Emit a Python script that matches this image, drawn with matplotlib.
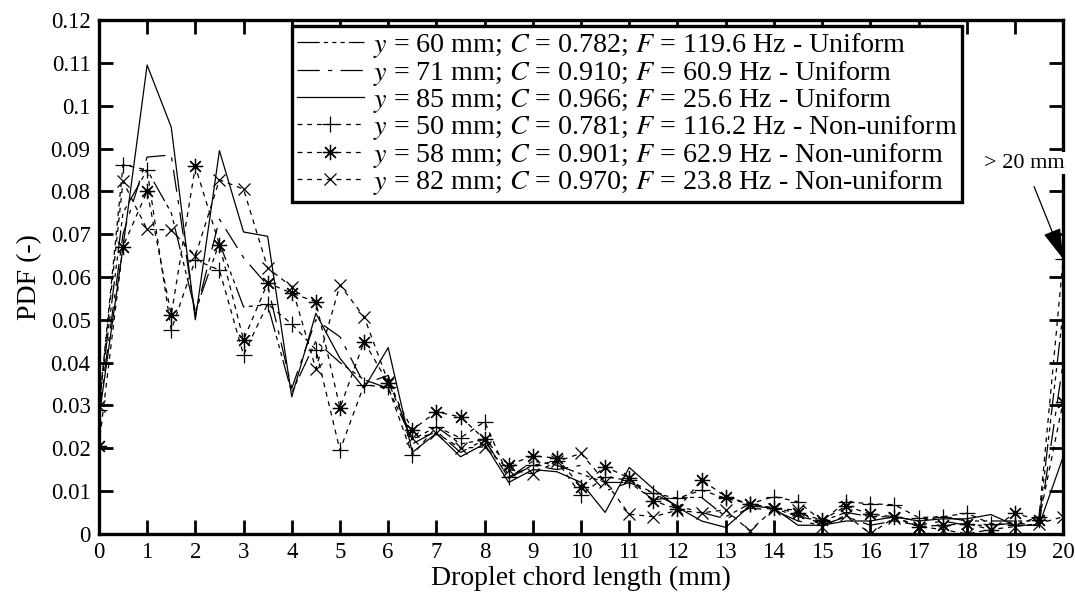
import numpy as np
import matplotlib
matplotlib.use("Agg")
import matplotlib.pyplot as plt

plt.rcParams['font.family'] = ['Liberation Serif', 'DejaVu Serif']
plt.rcParams['mathtext.fontset'] = 'stix'
plt.rcParams['lines.scale_dashes'] = False

# chord length bins (mm)
x = np.arange(0, 20.5, 0.5)

# uniform cases
pdf_60 = [0.030, 0.075, 0.085, 0.075, 0.052, 0.068, 0.053, 0.0535, 0.033, 0.045,
          0.040, 0.036, 0.034, 0.022, 0.025, 0.021, 0.022, 0.013, 0.017, 0.016,
          0.014, 0.012, 0.012, 0.008, 0.0085, 0.0085, 0.004, 0.007, 0.006, 0.004,
          0.003, 0.005, 0.004, 0.004, 0.003, 0.004, 0.003, 0.003, 0.003, 0.003, 0.052]
pdf_71 = [0.028, 0.070, 0.088, 0.0885, 0.051, 0.0735, 0.0645, 0.058, 0.034, 0.050,
          0.046, 0.035, 0.037, 0.021, 0.024, 0.019, 0.022, 0.013, 0.016, 0.015,
          0.016, 0.010, 0.012, 0.0095, 0.0065, 0.005, 0.0035, 0.006, 0.0055, 0.003,
          0.002, 0.004, 0.002, 0.003, 0.002, 0.003, 0.002, 0.002, 0.0025, 0.002, 0.040]
pdf_85 = [0.027, 0.067, 0.1095, 0.095, 0.050, 0.0895, 0.0705, 0.0695, 0.032, 0.0515,
          0.041, 0.034, 0.0435, 0.019, 0.0235, 0.018, 0.021, 0.012, 0.015, 0.0145,
          0.012, 0.005, 0.0155, 0.0105, 0.0062, 0.003, 0.0015, 0.0065, 0.006, 0.002,
          0.002, 0.003, 0.003, 0.004, 0.003, 0.0035, 0.0035, 0.0045, 0.002, 0.002, 0.018]

# non-uniform cases
pdf_50 = [0.029, 0.0862, 0.085, 0.0476, 0.064, 0.0616, 0.0418, 0.0537, 0.049, 0.043,
          0.0195, 0.0348, 0.0342, 0.0184, 0.025, 0.0224, 0.0262, 0.0133, 0.016, 0.017,
          0.0091, 0.0133, 0.0125, 0.0095, 0.0083, 0.0102, 0.0083, 0.007, 0.0087, 0.0075,
          0.003, 0.0075, 0.007, 0.0068, 0.0038, 0.004, 0.0048, 0.0024, 0.002, 0.004, 0.0642]
pdf_58 = [0.0206, 0.0671, 0.080, 0.0511, 0.0858, 0.0675, 0.0453, 0.0586, 0.0562, 0.0542,
          0.0294, 0.0449, 0.0352, 0.0243, 0.0285, 0.0273, 0.0221, 0.0161, 0.0182, 0.0177,
          0.011, 0.0157, 0.013, 0.0077, 0.0058, 0.0126, 0.0087, 0.007, 0.006, 0.0049,
          0.0032, 0.0065, 0.0046, 0.004, 0.0017, 0.002, 0.0024, 0.001, 0.0048, 0.0032, 0.0309]
pdf_82 = [0.0299, 0.0823, 0.0711, 0.071, 0.0649, 0.0827, 0.0805, 0.0621, 0.0577, 0.0385,
          0.0581, 0.0507, 0.0355, 0.0223, 0.0235, 0.020, 0.0203, 0.015, 0.014, 0.0169,
          0.0188, 0.0122, 0.0046, 0.004, 0.0055, 0.0049, 0.0056, 0.0007, 0.0058, 0.0056,
          0.0017, 0.0044, 0.0, 0.0038, 0.0017, 0.001, 0.0, 0.001, 0.0017, 0.0024, 0.004]

labels = [
    r'$y$ = 60 mm; $C$ = 0.782; $F$ = 119.6 Hz - Uniform',
    r'$y$ = 71 mm; $C$ = 0.910; $F$ = 60.9 Hz - Uniform',
    r'$y$ = 85 mm; $C$ = 0.966; $F$ = 25.6 Hz - Uniform',
    r'$y$ = 50 mm; $C$ = 0.781; $F$ = 116.2 Hz - Non-uniform',
    r'$y$ = 58 mm; $C$ = 0.901; $F$ = 62.9 Hz - Non-uniform',
    r'$y$ = 82 mm; $C$ = 0.970; $F$ = 23.8 Hz - Non-uniform',
]

fig = plt.figure(figsize=(10.75, 6.08), dpi=100)
ax = fig.add_axes([0.092, 0.122, 0.897, 0.845])

lw = 0.9
ax.plot(x, pdf_60, color='k', lw=lw, ls=(0, (16, 3, 3, 3, 3, 3, 3, 3)), label=labels[0])
ax.plot(x, pdf_71, color='k', lw=lw, ls=(0, (16, 6, 3, 6)), label=labels[1])
ax.plot(x, pdf_85, color='k', lw=lw, ls='-', label=labels[2])
dash = (0, (3.5, 3.5))
ax.plot(x, pdf_50, color='k', lw=lw, ls=dash, marker='+', ms=11, mew=0.9, label=labels[3])
ax.plot(x, pdf_58, color='k', lw=lw, ls=dash, marker=(8, 2, 0), ms=11, mew=0.9, label=labels[4])
ax.plot(x, pdf_82, color='k', lw=lw, ls=dash, marker='x', ms=9, mew=0.9, label=labels[5])

ax.set_xlim(0, 20)
ax.set_ylim(0, 0.12)
ax.set_xticks(np.arange(0, 21, 1))
ax.set_yticks(np.arange(0, 0.121, 0.01))
ax.set_yticklabels(['%g' % round(v, 2) for v in np.arange(0, 0.121, 0.01)])
ax.tick_params(direction='in', top=True, right=True, length=10, width=2,
               labelsize=16.5, pad=6)
for s in ax.spines.values():
    s.set_linewidth(2.4)

ax.set_xlabel('Droplet chord length (mm)', fontsize=20, labelpad=2)
ax.set_ylabel('PDF (-)', fontsize=20, labelpad=6)

leg = ax.legend(loc='upper left', bbox_to_anchor=(0.2, 0.988), fontsize=20.2,
                handlelength=2.4, handletextpad=0.3, borderpad=0.18,
                labelspacing=-0.06, fancybox=False, framealpha=1,
                edgecolor='k', borderaxespad=0)
leg.get_frame().set_linewidth(2.4)
leg.set_zorder(3)

ann = ax.annotate('> 20 mm', xy=(20, pdf_50[-1]), xytext=(19.2, 0.0866),
                  fontsize=16, ha='center', va='center',
                  bbox=dict(boxstyle='square,pad=0.05', fc='white', ec='none'),
                  arrowprops=dict(arrowstyle='-|>,head_length=1.2,head_width=0.35',
                                  color='k', lw=0.9, shrinkA=10, shrinkB=0))
ann.set_zorder(5)

fig.savefig('out.png', dpi=100)
